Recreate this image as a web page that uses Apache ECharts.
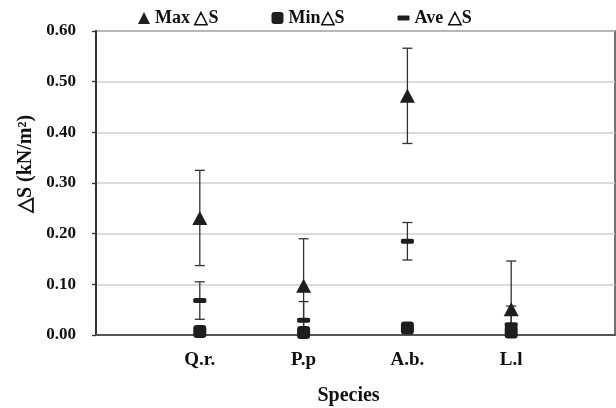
<!DOCTYPE html>
<html>
<head>
<meta charset="utf-8">
<script src="https://cdn.jsdelivr.net/npm/echarts@6/dist/echarts.min.js"></script>
<style>html,body{margin:0;padding:0;background:#fff}#c{width:616px;height:408px}</style>
</head>
<body>
<div id="c"></div>
<script>
const categories = ['Q.r.', 'P.p', 'A.b.', 'L.l'];
const maxVals = [0.231, 0.097, 0.472, 0.051];
const maxErr  = [0.094, 0.093, 0.094, 0.095];
const minVals = [0.007, 0.005, 0.014, 0.006];
const aveVals = [0.068, 0.029, 0.185, 0.020];
const aveErr  = [0.037, 0.037, 0.037, 0.037];
const yTicks = [0, 0.1, 0.2, 0.3, 0.4, 0.5, 0.6];

const FONT = '"Liberation Serif", "Times New Roman", serif';
const DARK = '#1e1e1e';

function pts(vals) { return vals.map((v, i) => [i + 1, v]); }
function errData(vals, errs) { return vals.map((v, i) => [i + 1, v - errs[i], v + errs[i]]); }

function errRender(params, api) {
  const x = api.value(0);
  const lo = api.coord([x, api.value(1)]);
  const hi = api.coord([x, api.value(2)]);
  const hw = 5;
  const st = { stroke: '#333', lineWidth: 1.3 };
  return {
    type: 'group',
    children: [
      { type: 'line', shape: { x1: hi[0], y1: hi[1], x2: lo[0], y2: lo[1] }, style: st },
      { type: 'line', shape: { x1: hi[0] - hw, y1: hi[1], x2: hi[0] + hw, y2: hi[1] }, style: st },
      { type: 'line', shape: { x1: lo[0] - hw, y1: lo[1], x2: lo[0] + hw, y2: lo[1] }, style: st }
    ]
  };
}

const chart = echarts.init(document.getElementById('c'), null, { renderer: 'canvas' });
chart.setOption({
  animation: false,
  backgroundColor: '#fff',
  textStyle: { fontFamily: FONT },
  legend: {
    top: 4, left: 133,
    itemGap: 53, itemWidth: 12, itemHeight: 12,
    textStyle: { fontFamily: FONT, fontWeight: 'bold', fontSize: 18, color: '#111' },
    data: [
      { name: 'Max \u25b3S', icon: 'triangle' },
      { name: 'Min\u25b3S', icon: 'roundRect' },
      { name: 'Ave \u25b3S', icon: 'path://M1,0h10a1,1 0 0 1 1,1v3a1,1 0 0 1 -1,1h-10a1,1 0 0 1 -1,-1v-3a1,1 0 0 1 1,-1z' }
    ]
  },
  grid: { left: 96, right: 1, top: 31, bottom: 73, containLabel: false, outerBoundsMode: 'none', show: true, borderColor: '#444', borderWidth: 1.5, backgroundColor: 'transparent' },
  xAxis: {
    type: 'value', min: 0, max: 5, interval: 1,
    name: 'Species', nameLocation: 'middle', nameGap: 51,
    nameTextStyle: { fontFamily: FONT, fontWeight: 'bold', fontSize: 20, color: '#111', padding: [0, 14, 0, 0] },
    axisLine: { lineStyle: { color: '#555', width: 2 } },
    axisTick: { show: false },
    splitLine: { show: false },
    axisLabel: {
      margin: 16,
      fontFamily: FONT, fontWeight: 'bold', fontSize: 19, color: '#111',
      formatter: v => (v >= 1 && v <= categories.length && Number.isInteger(v)) ? categories[v - 1] : ''
    }
  },
  yAxis: {
    type: 'value', min: yTicks[0], max: yTicks[yTicks.length - 1], interval: 0.1,
    name: '\u25b3S (kN/m\u00b2)', nameLocation: 'middle', nameGap: 57,
    nameTextStyle: { fontFamily: FONT, fontWeight: 'bold', fontSize: 20, color: '#111', padding: [0, 0, 0, 38] },
    axisLine: { show: true, lineStyle: { color: '#333', width: 2 } },
    axisTick: { show: true, length: 4, lineStyle: { color: '#333', width: 1.3 } },
    splitLine: { lineStyle: { color: '#cfcfcf', width: 1.5 } },
    axisLabel: {
      margin: 20,
      fontFamily: FONT, fontWeight: 'bold', fontSize: 17, color: '#111',
      formatter: v => v.toFixed(2)
    }
  },
  series: [
    { type: 'custom', name: 'maxErr', renderItem: errRender, data: errData(maxVals, maxErr), clip: true, z: 2, silent: true },
    { type: 'custom', name: 'aveErr', renderItem: errRender, data: errData(aveVals, aveErr), clip: true, z: 2, silent: true },
    { type: 'scatter', name: 'Ave \u25b3S', data: pts(aveVals), symbol: 'roundRect', symbolSize: [13, 5], itemStyle: { color: DARK, opacity: 1 }, z: 3 },
    { type: 'scatter', name: 'Max \u25b3S', data: pts(maxVals), symbol: 'triangle', symbolSize: [15, 14], itemStyle: { color: DARK, opacity: 1 }, z: 4 },
    { type: 'scatter', name: 'Min\u25b3S', data: pts(minVals), symbol: 'roundRect', symbolSize: [13, 13], itemStyle: { color: DARK, opacity: 1 }, z: 5, clip: false }
  ]
});
</script>
</body>
</html>
